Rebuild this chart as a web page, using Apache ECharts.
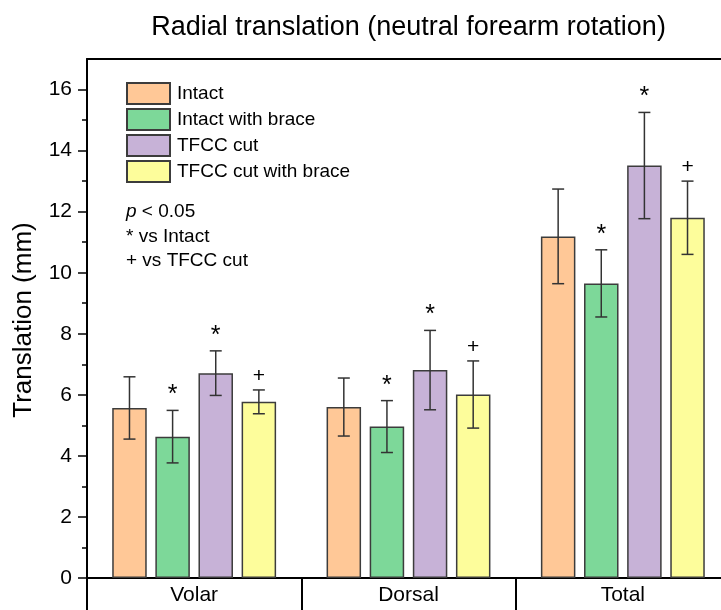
<!DOCTYPE html>
<html>
<head>
<meta charset="utf-8">
<style>html,body{margin:0;padding:0;background:#fff}#c{width:721px;height:610px}</style>
<script src="https://cdn.jsdelivr.net/npm/echarts@6/dist/echarts.min.js"></script>
</head>
<body>
<div id="c"></div>
<script>
const categories = ['Volar', 'Dorsal', 'Total'];
const seriesNames = ['Intact', 'Intact with brace', 'TFCC cut', 'TFCC cut with brace'];
const intact = [5.57, 5.60, 11.19];
const intactErr = [1.02, 0.95, 1.55];
const brace = [4.63, 4.96, 9.65];
const braceErr = [0.86, 0.85, 1.10];
const tfcc = [6.71, 6.81, 13.51];
const tfccErr = [0.73, 1.30, 1.74];
const tfccBrace = [5.77, 6.01, 11.80];
const tfccBraceErr = [0.39, 1.10, 1.20];
const intactMarks = ['', '', ''];
const braceMarks = ['*', '*', '*'];
const tfccMarks = ['*', '*', '*'];
const tfccBraceMarks = ['+', '+', '+'];
const yTicks = [0, 2, 4, 6, 8, 10, 12, 14, 16];
const yMinorTicks = [1, 3, 5, 7, 9, 11, 13, 15];
const colors = ['#FFC897', '#7DD899', '#C7B2D7', '#FDFD9B'];

const values = [intact, brace, tfcc, tfccBrace];
const errs = [intactErr, braceErr, tfccErr, tfccBraceErr];
const marks = [intactMarks, braceMarks, tfccMarks, tfccBraceMarks];

const FONT = '"Liberation Sans", Arial, sans-serif';
const BAR_W = 34.5;
const GAP = 0.25;

const chart = echarts.init(document.getElementById('c'));

const barSeries = seriesNames.map((n, i) => ({
  name: n,
  type: 'bar',
  data: values[i],
  barWidth: BAR_W,
  barGap: (GAP * 100) + '%',
  itemStyle: { color: colors[i], borderColor: '#3c3c3c', borderWidth: 1.5 },
  emphasis: { disabled: true },
  z: 2
}));

const errSeries = seriesNames.map((n, i) => ({
  type: 'custom',
  name: n + '_err',
  data: values[i].map((v, k) => [k, v, errs[i][k]]),
  encode: { x: 0, y: 1 },
  z: 5,
  silent: true,
  renderItem: function (params, api) {
    const k = api.value(0);
    const v = api.value(1);
    const e = api.value(2);
    const mk = marks[i][k];
    const c = api.coord([k, v]);
    const x = c[0] + (i - 1.5) * BAR_W * (1 + GAP);
    const yTop = api.coord([k, v + e])[1];
    const yBot = api.coord([k, v - e])[1];
    const st = { stroke: '#333', lineWidth: 1.5 };
    const ch = [
      { type: 'line', shape: { x1: x, y1: yTop, x2: x, y2: yBot }, style: st },
      { type: 'line', shape: { x1: x - 6, y1: yTop, x2: x + 6, y2: yTop }, style: st },
      { type: 'line', shape: { x1: x - 6, y1: yBot, x2: x + 6, y2: yBot }, style: st }
    ];
    if (mk === '*') {
      ch.push({ type: 'text', style: { text: mk, x: x, y: yTop - 15,
        align: 'center', verticalAlign: 'middle', font: '25px ' + FONT, fill: '#000' } });
    } else if (mk) {
      ch.push({ type: 'text', style: { text: mk, x: x, y: yTop - 14,
        align: 'center', verticalAlign: 'middle', font: '21px ' + FONT, fill: '#000' } });
    }
    return { type: 'group', children: ch };
  }
}));

chart.setOption({
  animation: false,
  textStyle: { fontFamily: FONT },
  grid: { left: 87, top: 59, width: 643, height: 519, outerBoundsMode: 'none', containLabel: false },
  legend: {
    data: seriesNames,
    orient: 'vertical',
    left: 121, top: 77,
    itemWidth: 43, itemHeight: 21, itemGap: 3,
    icon: 'rect',
    textStyle: { fontSize: 19, color: '#000', fontFamily: FONT, padding: [0, 0, 0, 2], lineHeight: 21 },
    selectedMode: false
  },
  xAxis: [{
    type: 'category',
    data: categories,
    position: 'bottom',
    boundaryGap: true,
    axisLine: { onZero: false, lineStyle: { color: '#000', width: 2 } },
    axisTick: { show: true, interval: 0, length: 40, lineStyle: { color: '#000', width: 2 } },
    axisLabel: { fontSize: 21, color: '#000', margin: 7, fontFamily: FONT },
    splitLine: { show: false }
  }, {
    type: 'category',
    data: categories,
    position: 'top',
    axisLine: { show: true, onZero: false, lineStyle: { color: '#000', width: 2 } },
    axisTick: { show: false },
    axisLabel: { show: false },
    splitLine: { show: false }
  }],
  yAxis: [{
    type: 'value',
    min: 0, max: 17,
    position: 'left',
    axisLine: { show: true, onZero: false, lineStyle: { color: '#000', width: 2 } },
    axisTick: { show: true, length: 9, customValues: yTicks, lineStyle: { color: '#000', width: 1.5 } },
    axisLabel: { fontSize: 21, color: '#000', margin: 15, customValues: yTicks, fontFamily: FONT },
    splitLine: { show: false }
  }, {
    type: 'value',
    min: 0, max: 17,
    position: 'left',
    axisLine: { show: false },
    axisTick: { show: true, length: 5, customValues: yMinorTicks, lineStyle: { color: '#000', width: 1.5 } },
    axisLabel: { show: false },
    splitLine: { show: false }
  }],
  graphic: [
    { type: 'text', x: 408.5, y: 28, style: { text: 'Radial translation (neutral forearm rotation)',
      font: '27px ' + FONT, fill: '#000', align: 'center', verticalAlign: 'middle' } },
    { type: 'text', x: 24, y: 320, rotation: Math.PI / 2, style: { text: 'Translation (mm)',
      font: '26px ' + FONT, fill: '#000', align: 'center', verticalAlign: 'middle' } },
    { type: 'text', x: 126, y: 212, style: {
      text: '{i|p} < 0.05', font: '19px ' + FONT, fill: '#000', verticalAlign: 'middle',
      rich: { i: { fontStyle: 'italic', fontSize: 19, fontFamily: FONT } } } },
    { type: 'text', x: 126, y: 236.5, style: { text: '* vs Intact', font: '19px ' + FONT, fill: '#000', verticalAlign: 'middle' } },
    { type: 'text', x: 126, y: 261, style: { text: '+ vs TFCC cut', font: '19px ' + FONT, fill: '#000', verticalAlign: 'middle' } }
  ],
  series: barSeries.concat(errSeries)
});
</script>
</body>
</html>
